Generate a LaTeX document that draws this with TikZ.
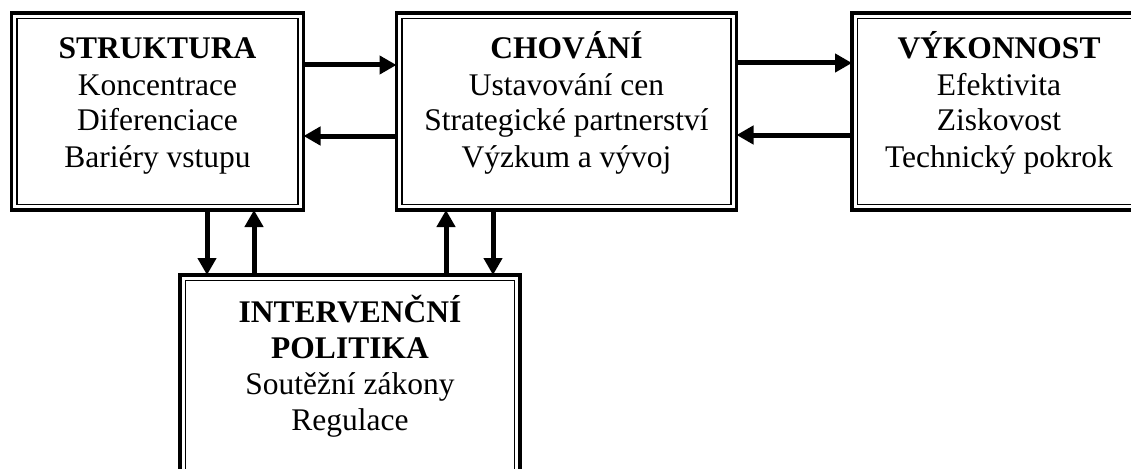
\documentclass[tikz,border=0pt]{standalone}
\usepackage{fontspec}
\setmainfont{Liberation Serif}
\usetikzlibrary{arrows.meta}
\begin{document}
\begin{tikzpicture}[x=1pt,y=-1pt,
  box/.style={draw, line width=3.4pt, inner sep=0pt, outer sep=0pt, anchor=north west},
  innerline/.style={line width=1.5pt},
  txt/.style={align=center, font=\fontsize{31.5}{36}\selectfont, inner sep=0pt, anchor=base},
  arr/.style={line width=5pt, -{Triangle[length=17pt,width=18pt]}}]
\useasboundingbox (0,0) rectangle (1131,468);
\clip (0,0) rectangle (1131,468);
% boxes
\node[box, minimum width=292pt, minimum height=197pt] (b1) at (11.5,13) {};
\node[box, minimum width=340pt, minimum height=197pt] (b2) at (396.5,13) {};
\node[box, minimum width=294pt, minimum height=197pt] (b3) at (852,13) {};
\node[box, minimum width=340pt, minimum height=200pt] (b4) at (180,275) {};
\foreach \b in {b1,b2,b3,b4}{
  \draw[innerline] ([shift={(5.5pt,-5.5pt)}]\b.north west) rectangle ([shift={(-5.5pt,5.5pt)}]\b.south east);
}
% texts (base anchor = baseline of the last line)
\node[txt] (t1) at (157.5,167) {\textbf{STRUKTURA}\\Koncentrace\\Diferenciace\\Bariéry vstupu};
\node[txt] (t2) at (566.5,167) {\textbf{CHOVÁNÍ}\\Ustavování cen\\Strategické partnerství\\Výzkum a vývoj};
\node[txt] (t3) at (999,167) {\textbf{VÝKONNOST}\\Efektivita\\Ziskovost\\Technický pokrok};
\node[txt] (t4) at (350,430) {\textbf{INTERVENČNÍ}\\\textbf{POLITIKA}\\Soutěžní zákony\\Regulace};
% horizontal arrows
\draw[arr] ([yshift=-52pt]b1.north east) -- ([yshift=-52pt]b2.north west);
\draw[arr] ([yshift=-123pt]b2.north west) -- ([yshift=-123pt]b1.north east);
\draw[arr] ([yshift=-50pt]b2.north east) -- ([yshift=-50pt]b3.north west);
\draw[arr] ([yshift=-122pt]b3.north west) -- ([yshift=-122pt]b2.north east);
% vertical arrows
\draw[arr] ([xshift=195.5pt]b1.south west) -- ([xshift=27pt]b4.north west);
\draw[arr] ([xshift=74pt]b4.north west) -- ([xshift=242.5pt]b1.south west);
\draw[arr] ([xshift=266pt]b4.north west) -- ([xshift=49.5pt]b2.south west);
\draw[arr] ([xshift=96.5pt]b2.south west) -- ([xshift=313pt]b4.north west);
\end{tikzpicture}
\end{document}
